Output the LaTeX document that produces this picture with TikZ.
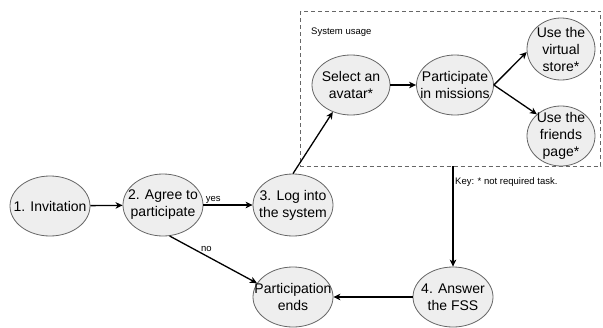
\documentclass[tikz,border=0pt]{standalone}
\usepackage{fontspec}
\setmainfont{Liberation Sans}
\usetikzlibrary{shapes.geometric,arrows.meta}
\newlength{\du}
\setlength{\du}{1pt}
\definecolor{dialinecolor}{rgb}{0.000000, 0.000000, 0.000000}
\definecolor{statefill}{rgb}{0.933333, 0.933333, 0.933333}
\definecolor{stateline}{rgb}{0.400000, 0.400000, 0.400000}
\tikzset{
  state/.style={ellipse, draw=stateline, fill=statefill, line width=0.8\du, inner sep=0pt},
  statetext/.style={align=center, text=dialinecolor, font=\fontsize{14}{17}\selectfont},
  flow/.style={draw=dialinecolor, line width=1.3\du, -{Stealth[length=7pt,width=6.5pt,inset=2pt]}},
  note/.style={text=dialinecolor, font=\fontsize{9.5}{11}\selectfont, inner sep=1\du},
}

\begin{document}
\begin{tikzpicture}
  \pgftransformxscale{1.000000}
  \pgftransformyscale{-1.000000}
  \useasboundingbox (0.000000\du,0.000000\du) rectangle (603.000000\du,327.000000\du);
  % system usage box
  \coordinate (usage-nw) at (300.500000\du,11.000000\du);
  \coordinate (usage-se) at (600.500000\du,166.000000\du);
  \draw[stateline, line width=0.8\du, dash pattern=on 4pt off 3pt] (usage-nw) rectangle (usage-se);
  \node[note, anchor=west] (usage) at (310.000000\du,32.000000\du){System usage};
  \node[note, anchor=west] (key) at (454.000000\du,182.000000\du){Key: * not required task.};
  % states
  \node[state, minimum width=80\du, minimum height=60\du, label={[statetext]center:1. Invitation}] (invite) at (50.000000\du,206.000000\du){};
  \node[state, minimum width=80\du, minimum height=62\du, label={[statetext]center:{2. Agree to\\participate}}] (agree) at (163.000000\du,205.000000\du){};
  \node[state, minimum width=80\du, minimum height=62\du, label={[statetext]center:{3. Log into\\the system}}] (login) at (293.000000\du,205.000000\du){};
  \node[state, minimum width=80\du, minimum height=60\du, label={[statetext]center:{Participation\\ends}}] (ends) at (293.000000\du,297.000000\du){};
  \node[state, minimum width=80\du, minimum height=60\du, label={[statetext]center:{4. Answer\\the FSS}}] (fss) at (453.000000\du,297.000000\du){};
  \node[state, minimum width=78\du, minimum height=60\du, label={[statetext]center:{Select an\\avatar*}}] (avatar) at (351.000000\du,85.000000\du){};
  \node[state, minimum width=77\du, minimum height=60\du, label={[statetext]center:{Participate\\in missions}}] (missions) at (455.000000\du,85.000000\du){};
  \node[state, minimum width=68\du, minimum height=62\du, label={[statetext]center:{Use the\\virtual\\store*}}] (store) at (561.000000\du,49.000000\du){};
  \node[state, minimum width=68\du, minimum height=60\du, label={[statetext]center:{Use the\\friends\\page*}}] (friends) at (561.000000\du,136.000000\du){};
  % connectors
  \draw[flow] (invite) -- (agree);
  \draw[flow] (agree) -- node[note, pos=0.2, anchor=south]{yes} (login);
  \draw[flow] (agree.-78) -- node[note, pos=0.42, anchor=south, inner sep=4\du]{no} (ends.159);
  \draw[flow] (login.north) -- (avatar.-124);
  \draw[flow] (avatar) -- (missions);
  \draw[flow] (missions.east) -- (store.185);
  \draw[flow] (missions.east) -- (friends.138);
  \draw[flow] (fss |- usage-se) -- (fss);
  \draw[flow] (fss) -- (ends);
\end{tikzpicture}
\end{document}
